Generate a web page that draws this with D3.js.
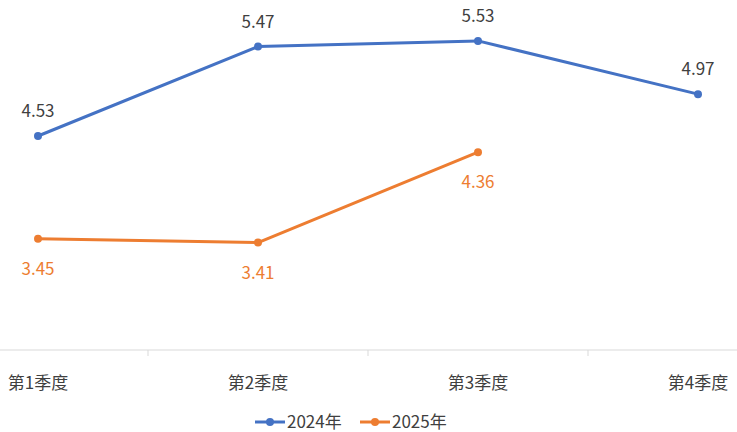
<!DOCTYPE html>
<html lang="zh">
<head>
  <meta charset="UTF-8">
  <title>季度折线图</title>
  <script src="https://d3js.org/d3.v7.min.js"></script>
  <style>
    body { margin: 0; background: #fff; }
    svg { display: block; font-family: "Noto Sans CJK SC", "Noto Sans", sans-serif; }
    .cat { font-size: 17px; fill: #404040; }
    .legend text { font-size: 17px; fill: #404040; }
  </style>
</head>
<body>
  <svg id="chart" width="737" height="432"></svg>
  <script>
    const categories = ["第1季度", "第2季度", "第3季度", "第4季度"];
    const series2024 = [4.53, 5.47, 5.53, 4.97];
    const series2025 = [3.45, 3.41, 4.36, null];
    const seriesNames = ["2024年", "2025年"];
    const colors = ["#4472C4", "#ED7D31"];

    const width = 737, height = 432;
    const svg = d3.select("#chart");

    // plot area is wider than the window: first / last category sit near the edges
    const x = d3.scaleBand().domain(categories).range([-72, 808]);
    const y = d3.scaleLinear().domain([2.28, 5.96]).range([350, 0]);
    const cx = d => x(d) + x.bandwidth() / 2;

    // category axis
    svg.append("line")
      .attr("x1", 0).attr("x2", width)
      .attr("y1", y(2.28)).attr("y2", y(2.28))
      .attr("stroke", "#d9d9d9").attr("stroke-width", 1);

    svg.selectAll(".tick")
      .data(categories.slice(1))
      .join("line")
      .attr("class", "tick")
      .attr("x1", d => x(d)).attr("x2", d => x(d))
      .attr("y1", y(2.28)).attr("y2", y(2.28) + 6)
      .attr("stroke", "#d9d9d9");

    svg.selectAll(".cat")
      .data(categories)
      .join("text")
      .attr("class", "cat")
      .attr("x", d => cx(d))
      .attr("y", 389)
      .attr("text-anchor", "middle")
      .text(d => d);

    // lines
    const allSeries = [series2024, series2025];
    const line = d3.line()
      .defined(d => d.v != null)
      .x(d => cx(d.c))
      .y(d => y(d.v));

    allSeries.forEach((vals, si) => {
      const pts = categories.map((c, i) => ({ c, v: vals[i] }));
      svg.append("path")
        .datum(pts)
        .attr("fill", "none")
        .attr("stroke", colors[si])
        .attr("stroke-width", 3)
        .attr("stroke-linejoin", "round")
        .attr("d", line);

      const good = pts.filter(d => d.v != null);
      svg.selectAll(".dot" + si)
        .data(good)
        .join("circle")
        .attr("cx", d => cx(d.c))
        .attr("cy", d => y(d.v))
        .attr("r", 4)
        .attr("fill", colors[si]);

      svg.selectAll(".lbl" + si)
        .data(good)
        .join("text")
        .attr("x", d => cx(d.c))
        .attr("y", d => si === 0 ? y(d.v) - 19 : y(d.v) + 36)
        .attr("text-anchor", "middle")
        .style("font-size", "17px")
        .attr("fill", si === 0 ? "#404040" : colors[si])
        .text(d => d.v.toFixed(2));
    });

    // legend
    const legend = svg.append("g").attr("class", "legend");
    const legendX = [255, 360];
    seriesNames.forEach((name, i) => {
      const g = legend.append("g").attr("transform", `translate(${legendX[i]},422)`);
      g.append("line").attr("x1", 0).attr("x2", 30)
        .attr("stroke", colors[i]).attr("stroke-width", 3);
      g.append("circle").attr("cx", 15).attr("r", 4).attr("fill", colors[i]);
      g.append("text").attr("x", 32).attr("y", 6).text(name);
    });
  </script>
</body>
</html>
